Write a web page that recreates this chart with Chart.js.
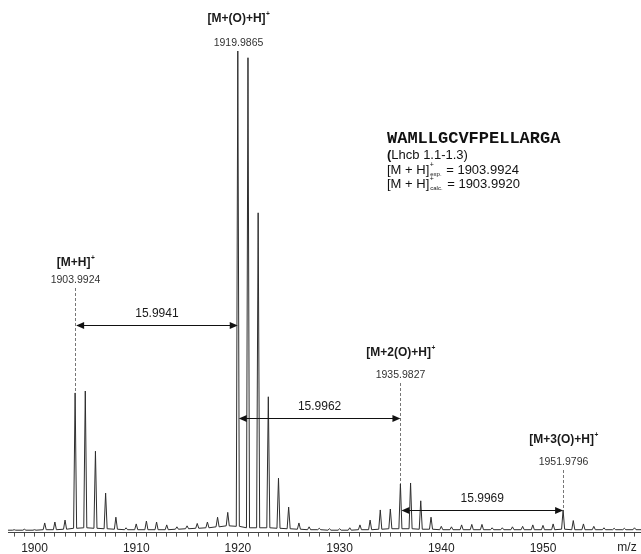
<!DOCTYPE html>
<html>
<head>
<meta charset="utf-8">
<script src="https://cdn.jsdelivr.net/npm/chart.js@4.4.0/dist/chart.umd.min.js"></script>
<style>
  html, body { margin: 0; padding: 0; background: #fff; }
</style>
</head>
<body>
<canvas id="myChart" width="641" height="554"></canvas>
<script>
// peak list: m/z, relative intensity (%), local floor (%)
const peakMz = [
  1898.0, 1899.0, 1900.0, 1901.0, 1902.0, 1903.0,
  1903.99, 1904.99, 1905.99, 1906.99, 1908.0, 1909.0,
  1910.0, 1911.0, 1912.0, 1913.0, 1914.0, 1915.0, 1916.0, 1917.0, 1918.0, 1919.0,
  1919.99, 1920.99, 1921.99, 1922.99, 1923.99, 1924.99,
  1926.0, 1927.0, 1928.0, 1929.0, 1930.0, 1931.0, 1932.0, 1933.0, 1934.0, 1934.99,
  1935.98, 1936.98, 1937.98, 1938.99,
  1940.0, 1941.0, 1942.0, 1943.0, 1944.0, 1945.0, 1946.0, 1947.0, 1948.0, 1949.0, 1950.0, 1951.0,
  1951.98, 1952.98, 1953.98, 1955.0, 1956.0, 1957.0, 1958.0, 1959.0
]
const peakInt = [
  0.6, 0.7, 0.6, 2.0, 2.2, 2.6,
  29.0, 29.4, 16.9, 8.2, 3.2, 1.0,
  1.8, 2.4, 2.2, 1.6, 1.2, 1.4, 1.9, 2.2, 3.2, 4.2,
  100, 98.6, 66.4, 28.2, 11.3, 5.3,
  2.0, 1.2, 0.9, 0.8, 0.8, 1.0, 1.6, 2.6, 4.7, 4.9,
  10.1, 10.3, 6.6, 3.2,
  1.3, 1.2, 1.6, 1.7, 1.7, 1.0, 1.0, 1.2, 1.3, 1.6, 1.5, 1.8,
  4.7, 2.5, 1.8, 1.3, 1.0, 0.9, 0.9, 1.0
]
const peakFloor = [
  0.5, 0.5, 0.5, 0.6, 0.6, 0.7,
  0.9, 1.0, 0.9, 0.8, 0.7, 0.6,
  0.6, 0.6, 0.6, 0.6, 0.7, 0.8, 0.9, 1.0, 1.2, 1.4,
  1.3, 1.0, 1.0, 1.0, 0.9, 0.8,
  0.7, 0.6, 0.6, 0.5, 0.5, 0.5, 0.6, 0.6, 0.7, 0.8,
  0.8, 0.8, 0.7, 0.7,
  0.6, 0.6, 0.6, 0.6, 0.6, 0.6, 0.6, 0.6, 0.6, 0.6, 0.6, 0.6,
  0.7, 0.6, 0.6, 0.6, 0.6, 0.6, 0.6, 0.6
]

// labelled ions
const ionMz = [1903.9924, 1919.9865, 1935.9827, 1951.9796]
const ionTop = [29.0, 100, 10.1, 4.7]
const ionName = ['[M+H]', '[M+(O)+H]', '[M+2(O)+H]', '[M+3(O)+H]']
const ionMass = ['1903.9924', '1919.9865', '1935.9827', '1951.9796']
const deltaLabels = ['15.9941', '15.9962', '15.9969']

const xTicks = []
for (let v = 1898; v <= 1959; v++) xTicks.push(v)

const X_MIN = 1897.39
const X_MAX = 1959.64
const HALF_W = 0.15
const FONT = '"Liberation Sans", Arial, Helvetica, sans-serif'

// spectrum trace made of the peak list
const profile = [{ x: X_MIN, y: peakFloor[0] }]
peakMz.forEach((m, i) => {
  profile.push({ x: m - HALF_W, y: peakFloor[i] })
  profile.push({ x: m, y: peakInt[i] })
  profile.push({ x: m + HALF_W, y: peakFloor[i] })
})
profile.push({ x: X_MAX, y: peakFloor[peakFloor.length - 1] })

// label positions (px)
const nameY = [263, 19, 353, 440]
const massY = [280, 43, 375, 462]
const arrowY = [325, 418, 510]

const drawSup = (ctx, text, sup, cx, y, size) => {
  ctx.font = `bold ${size}px ${FONT}`
  const w1 = ctx.measureText(text).width
  ctx.font = `bold ${size * 0.55}px ${FONT}`
  const w2 = ctx.measureText(sup).width
  const x0 = cx - (w1 + w2) / 2
  ctx.textAlign = 'left'
  ctx.font = `bold ${size}px ${FONT}`
  ctx.fillText(text, x0, y)
  ctx.font = `bold ${size * 0.55}px ${FONT}`
  ctx.fillText(sup, x0 + w1 + 0.5, y - size * 0.42)
}

const drawArrow = (ctx, x1, x2, y) => {
  ctx.strokeStyle = '#111'
  ctx.fillStyle = '#111'
  ctx.lineWidth = 1
  ctx.setLineDash([])
  ctx.beginPath()
  ctx.moveTo(x1 + 5, y + 0.5)
  ctx.lineTo(x2 - 5, y + 0.5)
  ctx.stroke()
  ctx.beginPath()
  ctx.moveTo(x1, y + 0.5)
  ctx.lineTo(x1 + 8, y - 3)
  ctx.lineTo(x1 + 8, y + 4)
  ctx.closePath()
  ctx.fill()
  ctx.beginPath()
  ctx.moveTo(x2, y + 0.5)
  ctx.lineTo(x2 - 8, y - 3)
  ctx.lineTo(x2 - 8, y + 4)
  ctx.closePath()
  ctx.fill()
}

const annotations = {
  id: 'annotations',
  afterDraw(chart) {
    const ctx = chart.ctx
    const xs = chart.scales.x
    const ys = chart.scales.y
    ctx.save()
    ctx.textBaseline = 'middle'

    ionMz.forEach((m, i) => {
      const px = Math.round(xs.getPixelForValue(m)) + 0.5
      ctx.fillStyle = '#1a1a1a'
      drawSup(ctx, ionName[i], '+', px, nameY[i], 12)
      ctx.font = `10.5px ${FONT}`
      ctx.textAlign = 'center'
      ctx.fillStyle = '#333'
      ctx.fillText(ionMass[i], px, massY[i])
      const top = ys.getPixelForValue(ionTop[i])
      if (top - massY[i] > 15) {
        ctx.strokeStyle = '#777'
        ctx.lineWidth = 1
        ctx.setLineDash([3, 2])
        ctx.beginPath()
        ctx.moveTo(px, massY[i] + 8)
        ctx.lineTo(px, top)
        ctx.stroke()
      }
    })

    deltaLabels.forEach((d, i) => {
      const x1 = xs.getPixelForValue(ionMz[i]) + 1
      const x2 = xs.getPixelForValue(ionMz[i + 1])
      drawArrow(ctx, x1, x2, arrowY[i])
      ctx.font = `12px ${FONT}`
      ctx.textAlign = 'center'
      ctx.fillStyle = '#1a1a1a'
      ctx.fillText(d, (x1 + x2) / 2, arrowY[i] - 11)
    })

    // peptide info block
    ctx.textAlign = 'left'
    ctx.fillStyle = '#111'
    ctx.font = `bold 17px "Liberation Mono", "Courier New", monospace`
    ctx.fillText('WAMLLGCVFPELLARGA', 387, 139)
    ctx.font = `bold 13px ${FONT}`
    ctx.fillText('(', 387, 155)
    const pw = ctx.measureText('(').width
    ctx.font = `13px ${FONT}`
    ctx.fillText('Lhcb 1.1-1.3)', 387 + pw, 155)
    ;[['exp.', '1903.9924', 170], ['calc.', '1903.9920', 184]].forEach(([sub, val, y]) => {
      ctx.font = `13px ${FONT}`
      ctx.fillText('[M + H]', 387, y)
      let x = 387 + ctx.measureText('[M + H]').width
      ctx.font = `7px ${FONT}`
      ctx.fillText('+', x + 0.5, y - 5)
      ctx.font = `6px ${FONT}`
      ctx.fillText(sub, x + 1, y + 4)
      x += ctx.measureText(sub).width + 2
      ctx.font = `13px ${FONT}`
      ctx.fillText(' = ' + val, x, y)
    })

    // axis unit
    ctx.font = `12px ${FONT}`
    ctx.textAlign = 'center'
    ctx.textBaseline = 'middle'
    ctx.fillStyle = '#222'
    ctx.fillText('m/z', 627, 548)
    ctx.restore()
  }
}

const ctx = document.querySelector('#myChart')
window.chart = new Chart(ctx, {
  type: 'line',
  data: {
    datasets: [{
      data: profile,
      borderColor: '#2e2e2e',
      borderWidth: 1,
      pointRadius: 0,
      tension: 0,
      fill: false
    }]
  },
  options: {
    responsive: false,
    animation: false,
    devicePixelRatio: 1,
    layout: { padding: { top: 51, left: 8, right: 0, bottom: 0 } },
    plugins: { legend: { display: false }, tooltip: { enabled: false } },
    scales: {
      x: {
        type: 'linear',
        min: X_MIN,
        max: X_MAX,
        afterBuildTicks: (scale) => { scale.ticks = xTicks.map(v => ({ value: v })) },
        afterFit: (scale) => { scale.height = 21.4 },
        grid: { drawOnChartArea: false, tickLength: 4, color: '#555' },
        border: { color: '#444', width: 1 },
        ticks: {
          autoSkip: false,
          maxRotation: 0,
          padding: 5,
          color: '#222',
          font: { size: 12, family: FONT },
          callback: (v) => (v % 10 === 0 ? String(v) : '')
        }
      },
      y: { display: false, min: 0, max: 100 }
    }
  },
  plugins: [annotations]
})
</script>
</body>
</html>
